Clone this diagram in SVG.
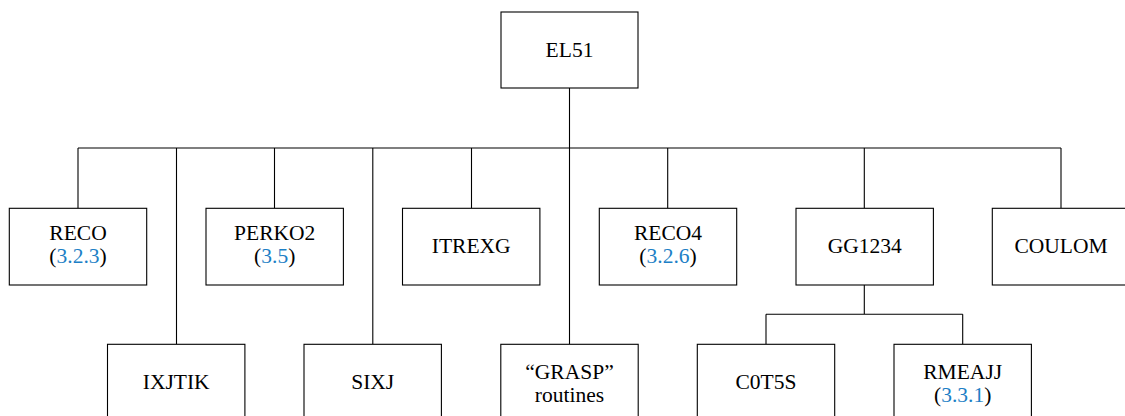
<svg xmlns="http://www.w3.org/2000/svg" width="1125" height="416" viewBox="0 0 1125 416">
<style>
.box{fill:#fff;stroke:#000;stroke-width:1.1}
.ln{fill:none;stroke:#000;stroke-width:1.1}
text{font-family:"Liberation Serif","Times New Roman",serif;font-size:21.5px;fill:#000;text-anchor:middle}
.ref{fill:#1d7fc6}
</style>
<rect width="1125" height="416" fill="#fff"/>
<g id="connectors">
<path class="ln" d="M569.5 88V344 M78 148H1061 M78 148V208 M176.5 148V344 M274.5 148V208 M372.8 148V344 M471.5 148V208 M667.7 148V208 M864.3 148V208 M1061 148V208 M864.3 285V314.3 M766 314.3H962.7 M766 314.3V344 M962.7 314.3V344"/>
</g>
<g id="EL51"><rect class="box" x="501" y="12" width="137" height="76"/><text x="569.5" y="57.3">EL51</text></g>
<g id="RECO"><rect class="box" x="9.3" y="208.3" width="137.4" height="76.7"/><text x="78" y="240">RECO</text><text x="78" y="263">(<tspan class="ref">3.2.3</tspan>)</text></g>
<g id="PERKO2"><rect class="box" x="206" y="208.3" width="137.4" height="76.7"/><text x="274.7" y="240">PERKO2</text><text x="274.7" y="263">(<tspan class="ref">3.5</tspan>)</text></g>
<g id="ITREXG"><rect class="box" x="402.5" y="208.3" width="137.4" height="76.7"/><text x="471.2" y="253.3">ITREXG</text></g>
<g id="RECO4"><rect class="box" x="599.3" y="208.3" width="137.4" height="76.7"/><text x="668" y="240">RECO4</text><text x="668" y="263">(<tspan class="ref">3.2.6</tspan>)</text></g>
<g id="GG1234"><rect class="box" x="796" y="208.3" width="137.4" height="76.7"/><text x="864.7" y="253.3">GG1234</text></g>
<g id="COULOM"><rect class="box" x="992.3" y="208.3" width="137.4" height="76.7"/><text x="1061" y="253.3">COULOM</text></g>
<g id="IXJTIK"><rect class="box" x="107.5" y="344.3" width="137.4" height="76.7"/><text x="176.2" y="388.5">IXJTIK</text></g>
<g id="SIXJ"><rect class="box" x="304" y="344.3" width="137.4" height="76.7"/><text x="372.7" y="388.5">SIXJ</text></g>
<g id="GRASP"><rect class="box" x="500.8" y="344.3" width="137.4" height="76.7"/><text x="569.5" y="378.5">“GRASP”</text><text x="569.5" y="401.5">routines</text></g>
<g id="C0T5S"><rect class="box" x="697.3" y="344.3" width="137.4" height="76.7"/><text x="766" y="388.5">C0T5S</text></g>
<g id="RMEAJJ"><rect class="box" x="894" y="344.3" width="137.4" height="76.7"/><text x="962.7" y="378.5">RMEAJJ</text><text x="962.7" y="401.5">(<tspan class="ref">3.3.1</tspan>)</text></g>
</svg>
